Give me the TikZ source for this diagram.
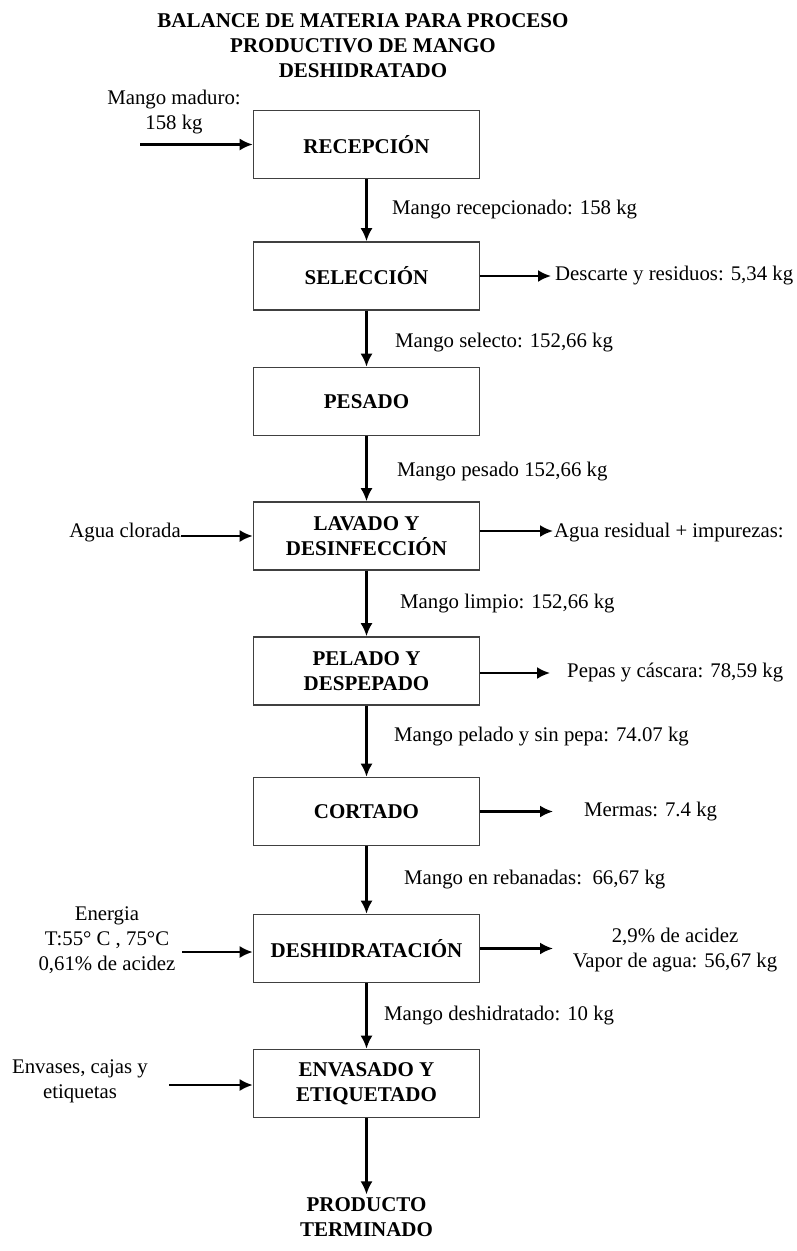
\documentclass[tikz,border=0pt]{standalone}
\usepackage{fontspec}
\setmainfont{Liberation Serif}
\usepackage{tikz}
\usetikzlibrary{positioning}
\usetikzlibrary{arrows.meta, calc}

\begin{document}
\begin{tikzpicture}[x=1pt,y=-1pt,>={Latex[length=13pt,width=12pt]},
proceso/.style={draw=black!75,line width=1.6pt,rectangle,minimum width=226pt,minimum height=68pt,align=center,font=\fontsize{21}{25}\selectfont\bfseries},
etiqueta/.style={inner sep=0pt,align=center,font=\fontsize{20.8}{25}\selectfont},
flecha/.style={->,line width=2.2pt}]
\useasboundingbox (0,0) rectangle (797,1251);

% the title
\node[align=center,font=\fontsize{21}{25}\selectfont\bfseries] (tit) at (363,46) {BALANCE DE MATERIA PARA PROCESO\\PRODUCTIVO DE MANGO\\DESHIDRATADO};

% the process boxes
\node[proceso] (rec) at (366.5,144.5) {RECEPCIÓN};
\node[proceso] (sel) at (366.5,276) {SELECCIÓN};
\node[proceso] (pes) at (366.5,401.5) {PESADO};
\node[proceso] (lav) at (366.5,536) {LAVADO Y\\DESINFECCIÓN};
\node[proceso] (pel) at (366.5,671) {PELADO Y\\DESPEPADO};
\node[proceso] (cor) at (366.5,811.5) {CORTADO};
\node[proceso] (des) at (366.5,948.5) {DESHIDRATACIÓN};
\node[proceso] (env) at (366.5,1083.5) {ENVASADO Y\\ETIQUETADO};
\node[align=center,font=\fontsize{21}{25}\selectfont\bfseries] (pro) at (366.5,1217.5) {PRODUCTO\\TERMINADO};

% the main flow and its labels
\draw[flecha] (rec) -- (sel);
\draw[flecha] (sel) -- (pes);
\draw[flecha] (pes) -- (lav);
\draw[flecha] (lav) -- (pel);
\draw[flecha] (pel) -- (cor);
\draw[flecha] (cor) -- (des);
\draw[flecha] (des) -- (env);
\draw[flecha] (env) -- (pro);
\node[etiqueta,anchor=west] (f1) at (392,210) {Mango recepcionado: 158 kg};
\node[etiqueta,anchor=west] (f2) at (395,343) {Mango selecto: 152,66 kg};
\node[etiqueta,anchor=west] (f3) at (397,472) {Mango pesado 152,66 kg};
\node[etiqueta,anchor=west] (f4) at (400,604) {Mango limpio: 152,66 kg};
\node[etiqueta,anchor=west] (f5) at (394,737) {Mango pelado y sin pepa: 74.07 kg};
\node[etiqueta,anchor=west] (f6) at (404,880) {Mango en rebanadas:\ \ 66,67 kg};
\node[etiqueta,anchor=west] (f7) at (384,1016) {Mango deshidratado: 10 kg};

% the inputs on the left
\node[etiqueta] (e1) at (174,112.5) {Mango maduro:\\158 kg};
\coordinate (c1) at (140,144.5);
\draw[flecha] (c1) -- (rec.west);
\node[etiqueta,anchor=east] (e2) at (181,533) {Agua clorada};
\draw[flecha] (e2.east |- lav.west) -- (lav.west);
\node[etiqueta] (e3) at (107,940) {Energia\\T:55° C , 75°C\\0,61\% de acidez};
\coordinate (c3) at (182,952);
\draw[flecha] (c3) -- (c3 -| des.west);
\node[etiqueta] (e4) at (80,1081) {Envases, cajas y\\etiquetas};
\coordinate (c4) at (169,1085);
\draw[flecha] (c4) -- (c4 -| env.west);

% the outputs on the right
\coordinate (s1) at (551,276);
\draw[flecha] (sel.east) -- (s1);
\node[etiqueta,anchor=west] (o1) at (555,276) {Descarte y residuos: 5,34 kg};
\coordinate (s2) at (553,531);
\draw[flecha] (lav.east |- s2) -- (s2);
\node[etiqueta,anchor=west] (o2) at (554,533) {Agua residual + impurezas:};
\coordinate (s3) at (550,673);
\draw[flecha] (pel.east |- s3) -- (s3);
\node[etiqueta,anchor=west] (o3) at (567,673) {Pepas y cáscara: 78,59 kg};
\coordinate (s4) at (553,811.5);
\draw[flecha] (cor.east) -- (s4);
\node[etiqueta,anchor=west] (o4) at (584,812) {Mermas: 7.4 kg};
\coordinate (s5) at (553,948.5);
\draw[flecha] (des.east) -- (s5);
\node[etiqueta] (o5) at (675,950) {2,9\% de acidez\\Vapor de agua: 56,67 kg};
\end{tikzpicture}
\end{document}
